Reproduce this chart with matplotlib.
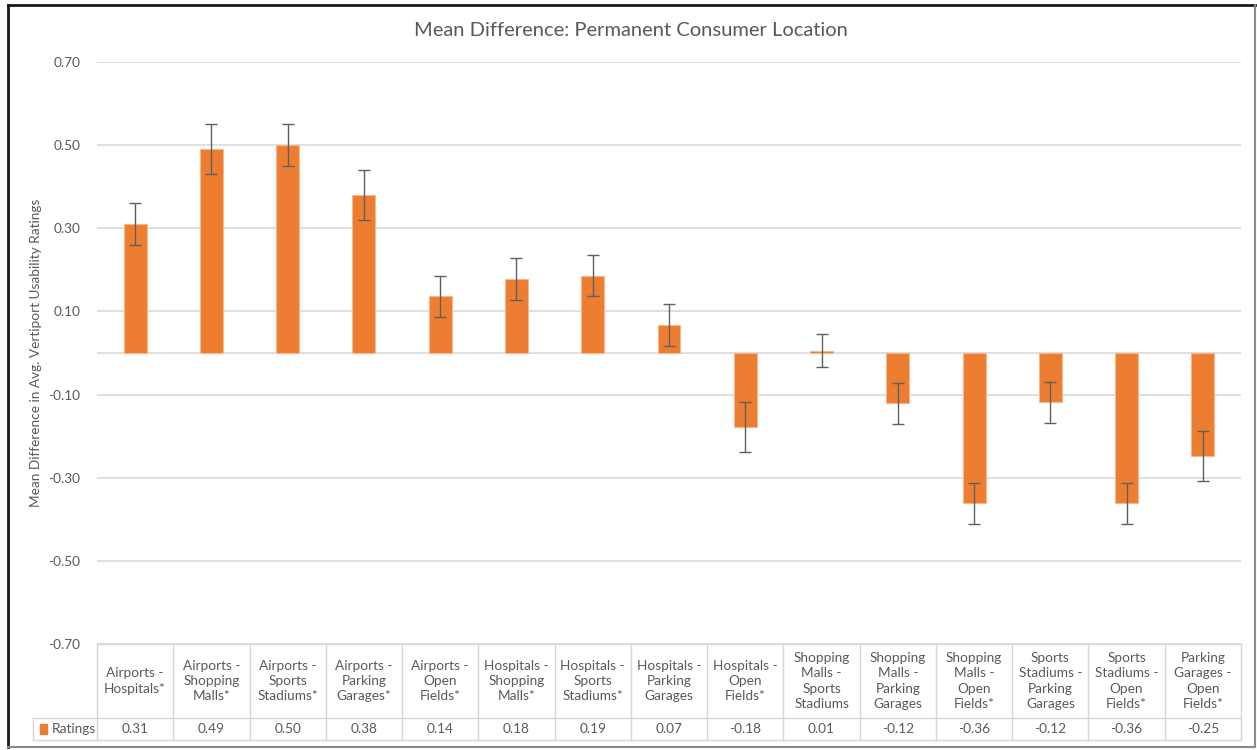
import numpy as np
import matplotlib
matplotlib.use('Agg')
import matplotlib.pyplot as plt
from matplotlib.lines import Line2D
from matplotlib.patches import Rectangle

plt.rcParams['font.family'] = ['Lato', 'DejaVu Sans']

categories = ['Airports -\nHospitals*', 'Airports -\nShopping\nMalls*', 'Airports -\nSports\nStadiums*',
              'Airports -\nParking\nGarages*', 'Airports -\nOpen\nFields*', 'Hospitals -\nShopping\nMalls*',
              'Hospitals -\nSports\nStadiums*', 'Hospitals -\nParking\nGarages', 'Hospitals -\nOpen\nFields*',
              'Shopping\nMalls -\nSports\nStadiums', 'Shopping\nMalls -\nParking\nGarages',
              'Shopping\nMalls -\nOpen\nFields*', 'Sports\nStadiums -\nParking\nGarages',
              'Sports\nStadiums -\nOpen\nFields*', 'Parking\nGarages -\nOpen\nFields*']
ratings = [0.31, 0.49, 0.50, 0.38, 0.136, 0.178, 0.186, 0.068, -0.177, 0.006,
           -0.121, -0.362, -0.119, -0.362, -0.248]
errors = [0.05, 0.06, 0.05, 0.06, 0.05, 0.05, 0.05, 0.05, 0.06, 0.04,
          0.05, 0.05, 0.05, 0.05, 0.06]
yticks = [0.70, 0.50, 0.30, 0.10, -0.10, -0.30, -0.50, -0.70]

W, H = 1257, 750
fig = plt.figure(figsize=(W / 100, H / 100), dpi=100)
ax = fig.add_axes([97 / W, (H - 644) / H, (1241 - 97) / W, (644 - 62) / H])

orange = '#ED7D31'
grey_txt = '#595959'
grid_c = '#D9D9D9'

x = np.arange(len(categories))
ax.bar(x, ratings, width=0.3, color=orange, edgecolor='#F6B88C', linewidth=0.8, zorder=3)
ax.errorbar(x, ratings, yerr=errors, fmt='none', ecolor='#5F5F5F', elinewidth=1.0,
            capsize=4, capthick=1.0, zorder=4)

ax.set_xlim(-0.5, len(categories) - 0.5)
ax.set_ylim(-0.70, 0.70)
ax.set_yticks(yticks)
ax.set_yticklabels(['{:.2f}'.format(v) for v in yticks], color=grey_txt, fontsize=9.8)
ax.tick_params(axis='y', length=0, pad=12)
ax.set_xticks([])
for s in ax.spines.values():
    s.set_visible(False)
ax.yaxis.grid(True, color=grid_c, linewidth=1.2, zorder=0)
ax.axhline(0, color=grid_c, linewidth=1.2, zorder=1)

fig.text(631 / W, 1 - 30 / H, 'Mean Difference: Permanent Consumer Location', fontsize=14.5,
         color=grey_txt, ha='center', va='center')
fig.text(36 / W, 1 - 353 / H, 'Mean Difference in Avg. Vertiport Usability Ratings',
         rotation=90, ha='center', va='center', fontsize=9.8, color=grey_txt)

# data table below the axis
tr = ax.get_xaxis_transform()
ph = 644 - 62
r1 = -(718 - 644) / ph
r2 = -(740 - 644) / ph
left = -0.5 - (97 - 33) / ((1241 - 97) / len(categories))
tc = '#D6D6D6'
n = len(categories)
ax.add_line(Line2D([-0.5, n - 0.5], [0, 0], transform=tr, color=tc, lw=1, clip_on=False))
ax.add_line(Line2D([left, n - 0.5], [r1, r1], transform=tr, color=tc, lw=1, clip_on=False))
ax.add_line(Line2D([left, n - 0.5], [r2, r2], transform=tr, color=tc, lw=1, clip_on=False))
ax.add_line(Line2D([left, left], [r1, r2], transform=tr, color=tc, lw=1, clip_on=False))
for i in range(n + 1):
    ax.add_line(Line2D([i - 0.5, i - 0.5], [0, r2], transform=tr, color=tc, lw=1, clip_on=False))

for i, (c, v) in enumerate(zip(categories, ratings)):
    ax.text(i, r1 / 2, c, transform=tr, ha='center', va='center', fontsize=9.8,
            color=grey_txt, linespacing=1.32)
    ax.text(i, (r1 + r2) / 2, '{:.2f}'.format(v), transform=tr, ha='center',
            va='center', fontsize=9.8, color=grey_txt)

ax.add_patch(Rectangle((left + 0.09, (r1 + r2) / 2 - 0.009), 0.1, 0.018, transform=tr,
                       color=orange, clip_on=False))
ax.text(left + 0.24, (r1 + r2) / 2, 'Ratings', transform=tr, ha='left', va='center',
        fontsize=9.8, color=grey_txt)

# outer frame of the screenshot
fig.add_artist(Line2D([8 / W, 8 / W], [3 / H, 1 - 5 / H], color='#1A1A1A', lw=2))
fig.add_artist(Line2D([8 / W, 1 - 2 / W], [1 - 5 / H, 1 - 5 / H], color='#1A1A1A', lw=2))
fig.add_artist(Line2D([1 - 2 / W, 1 - 2 / W], [3 / H, 1 - 5 / H], color='#8A8A8A', lw=1.5))
fig.add_artist(Line2D([8 / W, 1 - 2 / W], [3 / H, 3 / H], color='#8A8A8A', lw=1.5))

fig.savefig('out.png', dpi=100)
